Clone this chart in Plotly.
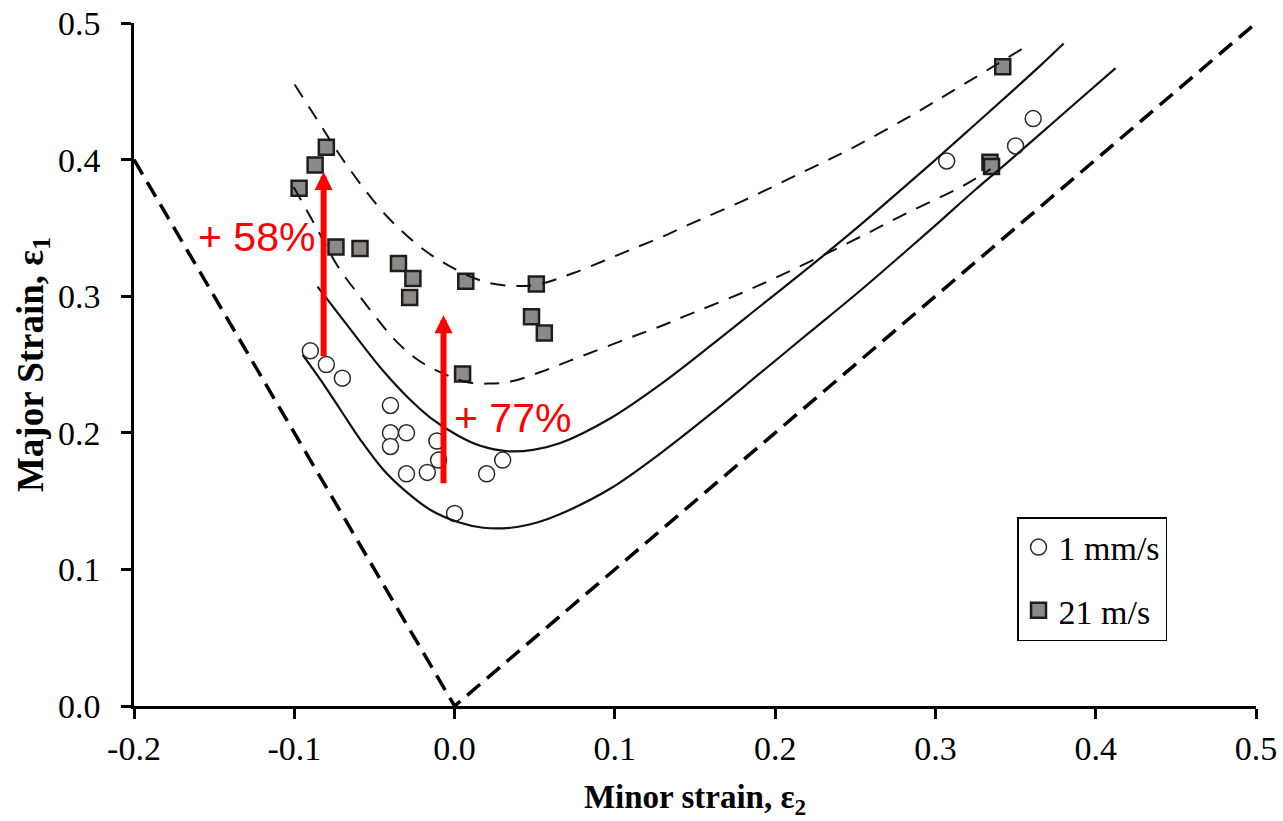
import plotly.graph_objects as go

# ---------------- data ----------------
slow_x = [-0.09, -0.08, -0.07, -0.04, -0.04, -0.03, -0.04, -0.03, -0.017, -0.011, -0.01, 0.0, 0.02, 0.03, 0.307, 0.35, 0.361]
slow_y = [0.26, 0.25, 0.24, 0.22, 0.20, 0.20, 0.19, 0.17, 0.171, 0.194, 0.18, 0.141, 0.17, 0.18, 0.399, 0.41, 0.43]

fast_x = [-0.097, -0.087, -0.08, -0.074, -0.059, -0.035, -0.026, -0.028, 0.007, 0.051, 0.005, 0.048, 0.056, 0.342, 0.334, 0.335]
fast_y = [0.379, 0.396, 0.409, 0.336, 0.335, 0.324, 0.313, 0.299, 0.311, 0.309, 0.243, 0.285, 0.273, 0.468, 0.398, 0.395]

v_x = [-0.2, 0.0, 0.5]
v_y = [0.4, 0.0, 0.5]

upper_solid_x = [-0.0855, -0.073, -0.0586, -0.0443, -0.0293, -0.015, 0.002, 0.016, 0.033, 0.049, 0.066, 0.097,
                 0.1285, 0.16, 0.191, 0.222, 0.253, 0.2826, 0.303, 0.324, 0.345, 0.3656, 0.380]
upper_solid_y = [0.307, 0.288, 0.266, 0.245, 0.226, 0.211, 0.198, 0.1905, 0.1865, 0.1875, 0.1925, 0.2105,
                 0.2355, 0.264, 0.293, 0.322, 0.352, 0.382, 0.403, 0.425, 0.447, 0.469, 0.485]

lower_solid_x = [-0.0948, -0.0836, -0.0711, -0.0586, -0.0443, -0.0293, -0.015, 0.002, 0.018, 0.035, 0.052, 0.066,
                 0.097, 0.1285, 0.16, 0.191, 0.222, 0.253, 0.2826, 0.303, 0.324, 0.345, 0.3656, 0.386, 0.4124]
lower_solid_y = [0.257, 0.2387, 0.2167, 0.1947, 0.1728, 0.156, 0.1435, 0.1347, 0.1305, 0.1305, 0.1345, 0.1405,
                 0.159, 0.185, 0.214, 0.244, 0.274, 0.304, 0.334, 0.355, 0.377, 0.398, 0.419, 0.440, 0.467]

upper_dashed_x = [-0.0998, -0.0867, -0.0667, -0.0418, -0.0168, 0.0069, 0.0206, 0.0368, 0.0518, 0.0742, 0.1098,
                  0.1285, 0.1454, 0.1803, 0.2158, 0.2489, 0.2845, 0.3175, 0.354]
upper_dashed_y = [0.455, 0.431, 0.395, 0.358, 0.332, 0.316, 0.310, 0.3075, 0.3085, 0.317, 0.334,
                  0.343, 0.352, 0.370, 0.390, 0.409, 0.432, 0.455, 0.481]

lower_dashed_x = [-0.1004, -0.088, -0.0724, -0.0605, -0.048, -0.0356, -0.0212, -0.0044, 0.0081, 0.0206, 0.0349,
                  0.0537, 0.0724, 0.108, 0.1285, 0.1429, 0.1784, 0.214, 0.249, 0.2826, 0.3175, 0.3344]
lower_dashed_y = [0.380, 0.354, 0.321, 0.302, 0.283, 0.266, 0.252, 0.242, 0.237, 0.236, 0.2375,
                  0.2445, 0.253, 0.269, 0.278, 0.285, 0.302, 0.321, 0.341, 0.361, 0.381, 0.393]

arrow_x = [-0.0817, -0.0069]
arrow_y_from = [0.255, 0.162]
arrow_y_to = [0.391, 0.286]

gain_labels = ["+ 58%", "+ 77%"]
gain_x = [-0.1235, 0.036]
gain_y = [0.343, 0.211]

x_tick_vals = [-0.2, -0.1, 0.0, 0.1, 0.2, 0.3, 0.4, 0.5]
x_tick_text = ["-0.2", "-0.1", "0.0", "0.1", "0.2", "0.3", "0.4", "0.5"]
y_tick_vals = [0.0, 0.1, 0.2, 0.3, 0.4, 0.5]
y_tick_text = ["0.0", "0.1", "0.2", "0.3", "0.4", "0.5"]

# ---------------- figure ----------------
SERIF = "Liberation Serif, Times New Roman, serif"
fig = go.Figure()

fig.add_trace(go.Scatter(x=slow_x, y=slow_y, mode="markers", name="1 mm/s", legendgroup="a",
                         marker=dict(symbol="circle", size=16, color="white",
                                     line=dict(color="#2a2a2a", width=1.5))))
fig.add_trace(go.Scatter(x=fast_x, y=fast_y, mode="markers", name="21 m/s", legendgroup="b",
                         marker=dict(symbol="square", size=15, color="#8c8989",
                                     line=dict(color="#1e1e1e", width=2.5))))

fig.add_trace(go.Scatter(x=v_x, y=v_y, mode="lines", showlegend=False,
                         line=dict(color="black", width=3.5, dash="17px,9px")))
for cx, cy in [(upper_solid_x, upper_solid_y), (lower_solid_x, lower_solid_y)]:
    fig.add_trace(go.Scatter(x=cx, y=cy, mode="lines", showlegend=False,
                             line=dict(color="#111111", width=2.2, shape="spline", smoothing=1.0)))
for cx, cy in [(upper_dashed_x, upper_dashed_y), (lower_dashed_x, lower_dashed_y)]:
    fig.add_trace(go.Scatter(x=cx, y=cy, mode="lines", showlegend=False,
                             line=dict(color="#111111", width=2, dash="15px,11px",
                                       shape="spline", smoothing=1.0)))

annotations = []
for ax_, y0, y1 in zip(arrow_x, arrow_y_from, arrow_y_to):
    annotations.append(dict(x=ax_, y=y1, ax=ax_, ay=y0, xref="x", yref="y", axref="x", ayref="y",
                            text="", showarrow=True, arrowhead=2, arrowsize=0.6, arrowwidth=6,
                            arrowcolor="#ff0000", standoff=0, startstandoff=0))
for t, gx, gy in zip(gain_labels, gain_x, gain_y):
    annotations.append(dict(x=gx, y=gy, xref="x", yref="y", text=t, showarrow=False,
                            font=dict(family="Liberation Sans, Arial, sans-serif", size=41, color="#ff0000")))

fig.update_layout(
    width=1283, height=821,
    margin=dict(l=134, r=27, t=23, b=115, autoexpand=False),
    paper_bgcolor="white", plot_bgcolor="white",
    font=dict(family=SERIF, color="black"),
    annotations=annotations,
    legend=dict(x=0.787, y=0.2767, xanchor="left", yanchor="top",
                bgcolor="white", bordercolor="black", borderwidth=1.5,
                font=dict(family=SERIF, size=34, color="black"),
                tracegroupgap=16, itemwidth=30),
)
fig.update_xaxes(range=[-0.2, 0.5], tickvals=x_tick_vals, ticktext=x_tick_text,
                 showgrid=False, zeroline=False, showline=True, linecolor="black", linewidth=2.5,
                 ticks="outside", ticklen=10, tickwidth=2.5, tickcolor="black",
                 tickfont=dict(family=SERIF, size=34, color="black"), automargin=False,
                 title=dict(text="<b>Minor strain, ε<sub>2</sub></b>", standoff=20,
                            font=dict(family=SERIF, size=33, color="black")))
fig.update_yaxes(range=[0, 0.5], tickvals=y_tick_vals, ticktext=y_tick_text,
                 showgrid=False, zeroline=False, showline=True, linecolor="black", linewidth=2.5,
                 ticks="outside", ticklen=10, tickwidth=2.5, tickcolor="black", ticklabelstandoff=14,
                 tickfont=dict(family=SERIF, size=34, color="black"), automargin=False,
                 title=dict(text="<b>Major Strain, ε<sub>1</sub></b>", standoff=4,
                            font=dict(family=SERIF, size=37, color="black")))

fig.write_html("out.html")
